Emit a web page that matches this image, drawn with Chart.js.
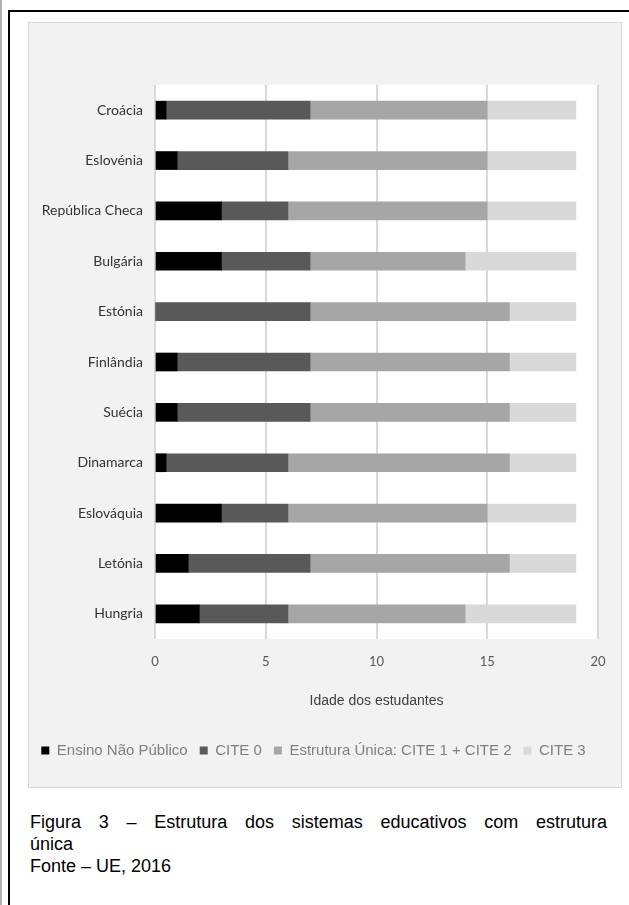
<!DOCTYPE html>
<html>
<head>
<meta charset="utf-8">
<script src="https://cdn.jsdelivr.net/npm/chart.js@4.4.0/dist/chart.umd.min.js"></script>
<style>
  body { margin: 0; background: #fff; width: 629px; height: 905px; position: relative; overflow: hidden; }
  #edge { position: absolute; left: 0; top: 0; width: 2px; height: 905px; background: #b0b0b0; }
  #frame { position: absolute; left: 8px; top: 10px; width: 700px; height: 1000px; border-left: 2px solid #000; border-top: 2px solid #000; }
  #box { position: absolute; left: 28px; top: 22px; width: 592px; height: 764px; background: #f2f2f2; border: 1px solid #d9d9d9; }
  #box canvas { display: block; }
  #caption { position: absolute; left: 30px; top: 811px; width: 577px; font-family: "Liberation Sans", Arial, sans-serif; font-size: 18px; line-height: 22px; color: #000; }
  .full { text-align: justify; text-align-last: justify; }
</style>
</head>
<body>
<div id="edge"></div>
<div id="frame"></div>
<div id="box"><canvas id="chart" width="592" height="764"></canvas></div>
<div id="caption">
  <div class="full">Figura 3 – Estrutura dos sistemas educativos com estrutura</div>
  <div>única</div>
  <div>Fonte – UE, 2016</div>
</div>
<script>
// dados (anos de idade por etapa)
const countries = ['Croácia', 'Eslovénia', 'República Checa', 'Bulgária', 'Estónia', 'Finlândia', 'Suécia', 'Dinamarca', 'Eslováquia', 'Letónia', 'Hungria'];
const naoPublico = [0.5, 1, 3, 3, 0, 1, 1, 0.5, 3, 1.5, 2];
const cite0 = [6.5, 5, 3, 4, 7, 6, 6, 5.5, 3, 5.5, 4];
const estruturaUnica = [8, 9, 9, 7, 9, 9, 9, 10, 9, 9, 8];
const cite3 = [4, 4, 4, 5, 3, 3, 3, 3, 4, 3, 5];
const xMin = 0, xMax = 20, xStep = 5;

// white background behind the plot area
const plotBg = {
    id: 'plotBg',
    beforeDraw(chart) {
        const {ctx, chartArea} = chart;
        ctx.save();
        ctx.fillStyle = '#ffffff';
        ctx.fillRect(chartArea.left, chartArea.top, chartArea.right - chartArea.left, chartArea.bottom - chartArea.top);
        ctx.restore();
    }
};

const ctx = document.getElementById('chart').getContext('2d');
new Chart(ctx, {
    type: 'bar',
    data: {
        labels: countries,
        datasets: [
            { label: 'Ensino Não Público', data: naoPublico, backgroundColor: '#000000' },
            { label: 'CITE 0', data: cite0, backgroundColor: '#595959' },
            { label: 'Estrutura Única: CITE 1 + CITE 2', data: estruturaUnica, backgroundColor: '#a6a6a6' },
            { label: 'CITE 3', data: cite3, backgroundColor: '#d9d9d9' }
        ]
    },
    options: {
        indexAxis: 'y',
        responsive: false,
        animation: false,
        barThickness: 18,
        layout: {
            padding: { top: 62, right: 23, bottom: 19, left: 0 }
        },
        plugins: {
            legend: {
                position: 'bottom',
                labels: {
                    boxWidth: 8,
                    boxHeight: 8,
                    padding: 12,
                    color: '#7f7f7f',
                    font: { family: '"Liberation Sans", Arial, sans-serif', size: 15 }
                }
            },
            tooltip: { enabled: false }
        },
        scales: {
            x: {
                stacked: true,
                min: xMin,
                max: xMax,
                ticks: {
                    stepSize: xStep,
                    padding: 15,
                    color: '#595959',
                    font: { family: 'Lato', size: 13 }
                },
                grid: { color: '#d9d9d9', lineWidth: 2, drawTicks: false },
                border: { display: false },
                title: {
                    display: true,
                    text: 'Idade dos estudantes',
                    color: '#404040',
                    padding: { top: 0, bottom: 21 },
                    font: { family: '"Liberation Sans", Arial, sans-serif', size: 14 }
                },
                afterFit(scale) { scale.height = 92; }
            },
            y: {
                stacked: true,
                grid: { display: false, drawTicks: false },
                border: { display: false },
                ticks: {
                    padding: 12,
                    color: '#333333',
                    font: { family: 'Lato', size: 14 }
                },
                afterFit(scale) { scale.width = 126; }
            }
        }
    },
    plugins: [plotBg]
});
</script>
</body>
</html>
